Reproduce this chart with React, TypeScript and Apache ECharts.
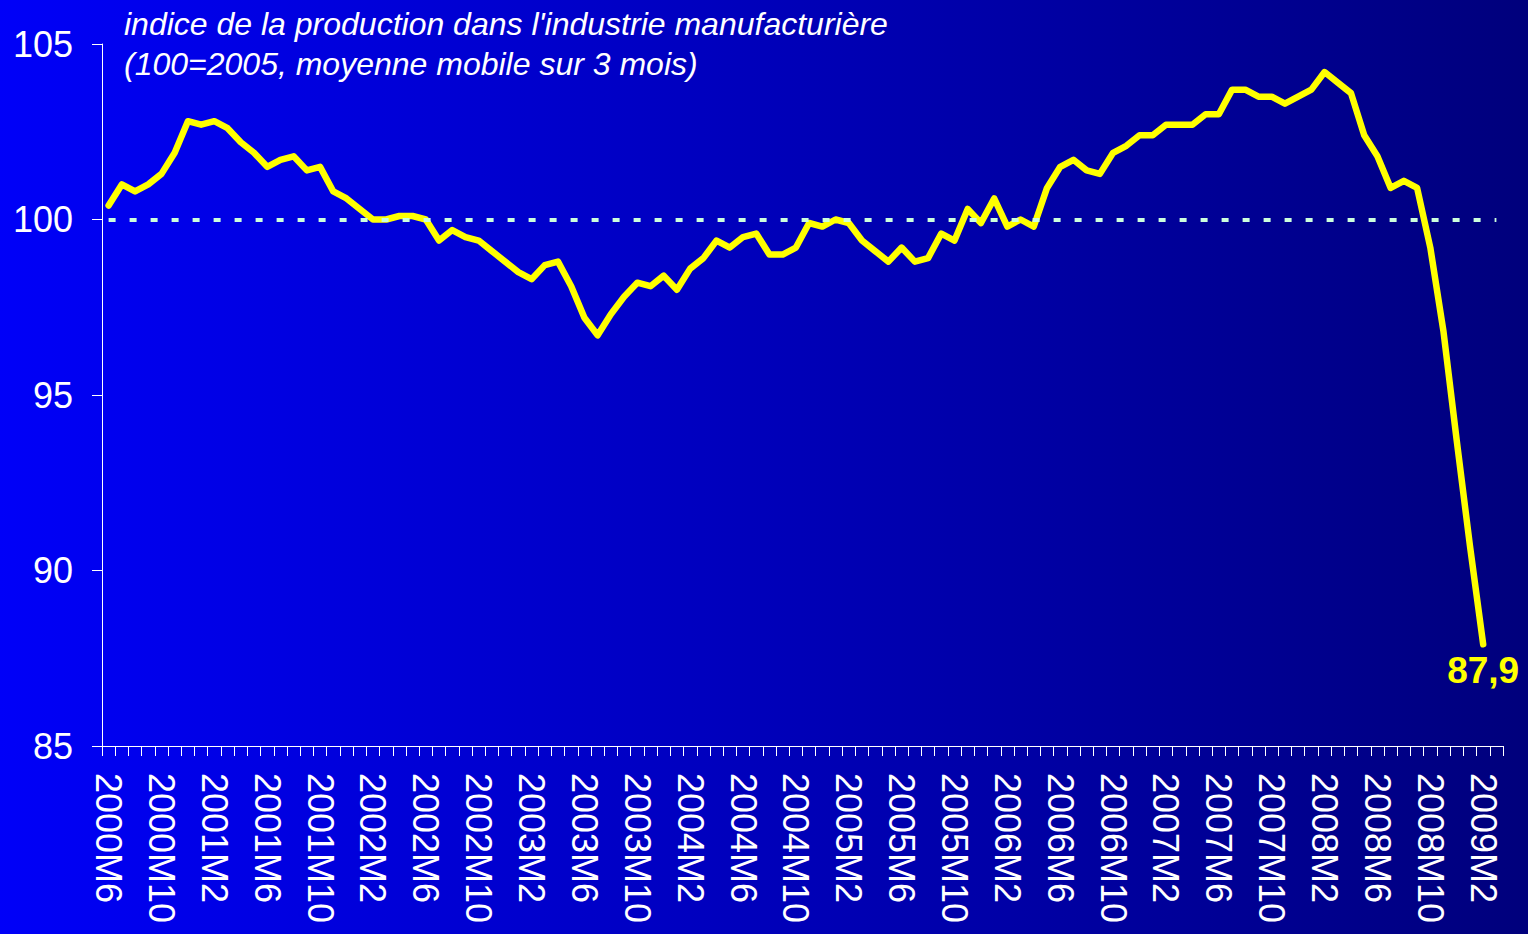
import React, { useEffect, useRef } from "react";
import * as echarts from "echarts";

const categories: string[] = [
  "2000M6", "2000M7", "2000M8", "2000M9", "2000M10", "2000M11", "2000M12",
  "2001M1", "2001M2", "2001M3", "2001M4", "2001M5", "2001M6", "2001M7", "2001M8", "2001M9", "2001M10", "2001M11", "2001M12",
  "2002M1", "2002M2", "2002M3", "2002M4", "2002M5", "2002M6", "2002M7", "2002M8", "2002M9", "2002M10", "2002M11", "2002M12",
  "2003M1", "2003M2", "2003M3", "2003M4", "2003M5", "2003M6", "2003M7", "2003M8", "2003M9", "2003M10", "2003M11", "2003M12",
  "2004M1", "2004M2", "2004M3", "2004M4", "2004M5", "2004M6", "2004M7", "2004M8", "2004M9", "2004M10", "2004M11", "2004M12",
  "2005M1", "2005M2", "2005M3", "2005M4", "2005M5", "2005M6", "2005M7", "2005M8", "2005M9", "2005M10", "2005M11", "2005M12",
  "2006M1", "2006M2", "2006M3", "2006M4", "2006M5", "2006M6", "2006M7", "2006M8", "2006M9", "2006M10", "2006M11", "2006M12",
  "2007M1", "2007M2", "2007M3", "2007M4", "2007M5", "2007M6", "2007M7", "2007M8", "2007M9", "2007M10", "2007M11", "2007M12",
  "2008M1", "2008M2", "2008M3", "2008M4", "2008M5", "2008M6", "2008M7", "2008M8", "2008M9", "2008M10", "2008M11", "2008M12",
  "2009M1", "2009M2", "2009M3",
];

// indice de la production manufacturière (moyenne mobile 3 mois)
const values2000: number[] = [100.4, 101.0, 100.8, 101.0, 101.3, 101.9, 102.8];
const values2001: number[] = [102.7, 102.8, 102.6, 102.2, 101.9, 101.5, 101.7, 101.8, 101.4, 101.5, 100.8, 100.6];
const values2002: number[] = [100.3, 100.0, 100.0, 100.1, 100.1, 100.0, 99.4, 99.7, 99.5, 99.4, 99.1, 98.8];
const values2003: number[] = [98.5, 98.3, 98.7, 98.8, 98.1, 97.2, 96.7, 97.3, 97.8, 98.2, 98.1, 98.4];
const values2004: number[] = [98.0, 98.6, 98.9, 99.4, 99.2, 99.5, 99.6, 99.0, 99.0, 99.2, 99.9, 99.8];
const values2005: number[] = [100.0, 99.9, 99.4, 99.1, 98.8, 99.2, 98.8, 98.9, 99.6, 99.4, 100.3, 99.9];
const values2006: number[] = [100.6, 99.8, 100.0, 99.8, 100.9, 101.5, 101.7, 101.4, 101.3, 101.9, 102.1, 102.4];
const values2007: number[] = [102.4, 102.7, 102.7, 102.7, 103.0, 103.0, 103.7, 103.7, 103.5, 103.5, 103.3, 103.5];
const values2008: number[] = [103.7, 104.2, 103.9, 103.6, 102.4, 101.8, 100.9, 101.1, 100.9, 99.2, 96.8, 93.7];
const values2009: number[] = [90.7, 87.9];

const seriesValues: number[] = [
  ...values2000, ...values2001, ...values2002, ...values2003, ...values2004,
  ...values2005, ...values2006, ...values2007, ...values2008, ...values2009,
];

const referenceLevel = 100;
const yTicks = { min: 85, max: 105, interval: 5 };
const titleText = "indice de la production dans l'industrie manufacturière\n(100=2005, moyenne mobile sur 3 mois)";

const FONT = "'Liberation Sans', Arial, sans-serif";

export default function App() {
  const ref = useRef<HTMLDivElement | null>(null);

  useEffect(() => {
    if (!ref.current) return;
    const chart = echarts.init(ref.current, undefined, { renderer: "svg" });
    const lastIdx = seriesValues.length - 1;
    const data = seriesValues.map((v, i) =>
      i === lastIdx
        ? {
            value: v,
            symbol: "circle",
            symbolSize: 2,
            itemStyle: { color: "rgba(0,0,0,0)", borderWidth: 0 },
            label: {
              show: true,
              position: "bottom",
              distance: 7,
              color: "#FFFF00",
              fontSize: 37,
              fontWeight: "bold",
              fontFamily: FONT,
              formatter: (p: any) => String(p.value).replace(".", ","),
            },
          }
        : v
    );
    chart.setOption({
      animation: false,
      backgroundColor: new echarts.graphic.LinearGradient(0, 0, 1, 0, [
        { offset: 0, color: "#0000F8" },
        { offset: 1, color: "#00007C" },
      ]),
      title: {
        text: titleText,
        left: 119,
        top: -1,
        textStyle: {
          color: "#FFFFFF",
          fontSize: 32,
          fontStyle: "italic",
          fontWeight: "normal",
          fontFamily: FONT,
          lineHeight: 40,
        },
      },
      grid: { left: 102, right: 25, top: 44, bottom: 188, containLabel: false },
      xAxis: {
        type: "category",
        data: categories,
        boundaryGap: true,
        axisLine: { show: true, lineStyle: { color: "#FFFFFF", width: 1 } },
        axisTick: { show: true, interval: 0, length: 10, lineStyle: { color: "#FFFFFF" } },
        axisLabel: {
          interval: 3,
          rotate: -90,
          margin: 27,
          color: "#FFFFFF",
          fontSize: 36,
          fontFamily: FONT,
        },
        splitLine: { show: false },
      },
      yAxis: {
        type: "value",
        min: yTicks.min,
        max: yTicks.max,
        interval: yTicks.interval,
        axisLine: { show: true, lineStyle: { color: "#FFFFFF", width: 1 } },
        axisTick: { show: true, length: 10, lineStyle: { color: "#FFFFFF" } },
        axisLabel: { color: "#FFFFFF", fontSize: 36, fontFamily: FONT, margin: 29 },
        splitLine: { show: false },
      },
      series: [
        {
          type: "line",
          data,
          showSymbol: true,
          symbol: "none",
          lineStyle: { color: "#FFFF00", width: 6.5, cap: "round", join: "round" },
          markLine: {
            silent: true,
            symbol: "none",
            label: { show: false },
            lineStyle: { color: "#CCFFDD", width: 4, type: [7, 14] },
            data: [
              [
                { coord: [categories[0], referenceLevel] },
                { coord: [categories[categories.length - 1], referenceLevel] },
              ],
            ],
          },
        },
      ],
    });
    return () => chart.dispose();
  }, []);

  return (
    <div
      ref={ref}
      style={{ position: "fixed", left: 0, top: 0, width: 1528, height: 934 }}
    />
  );
}
